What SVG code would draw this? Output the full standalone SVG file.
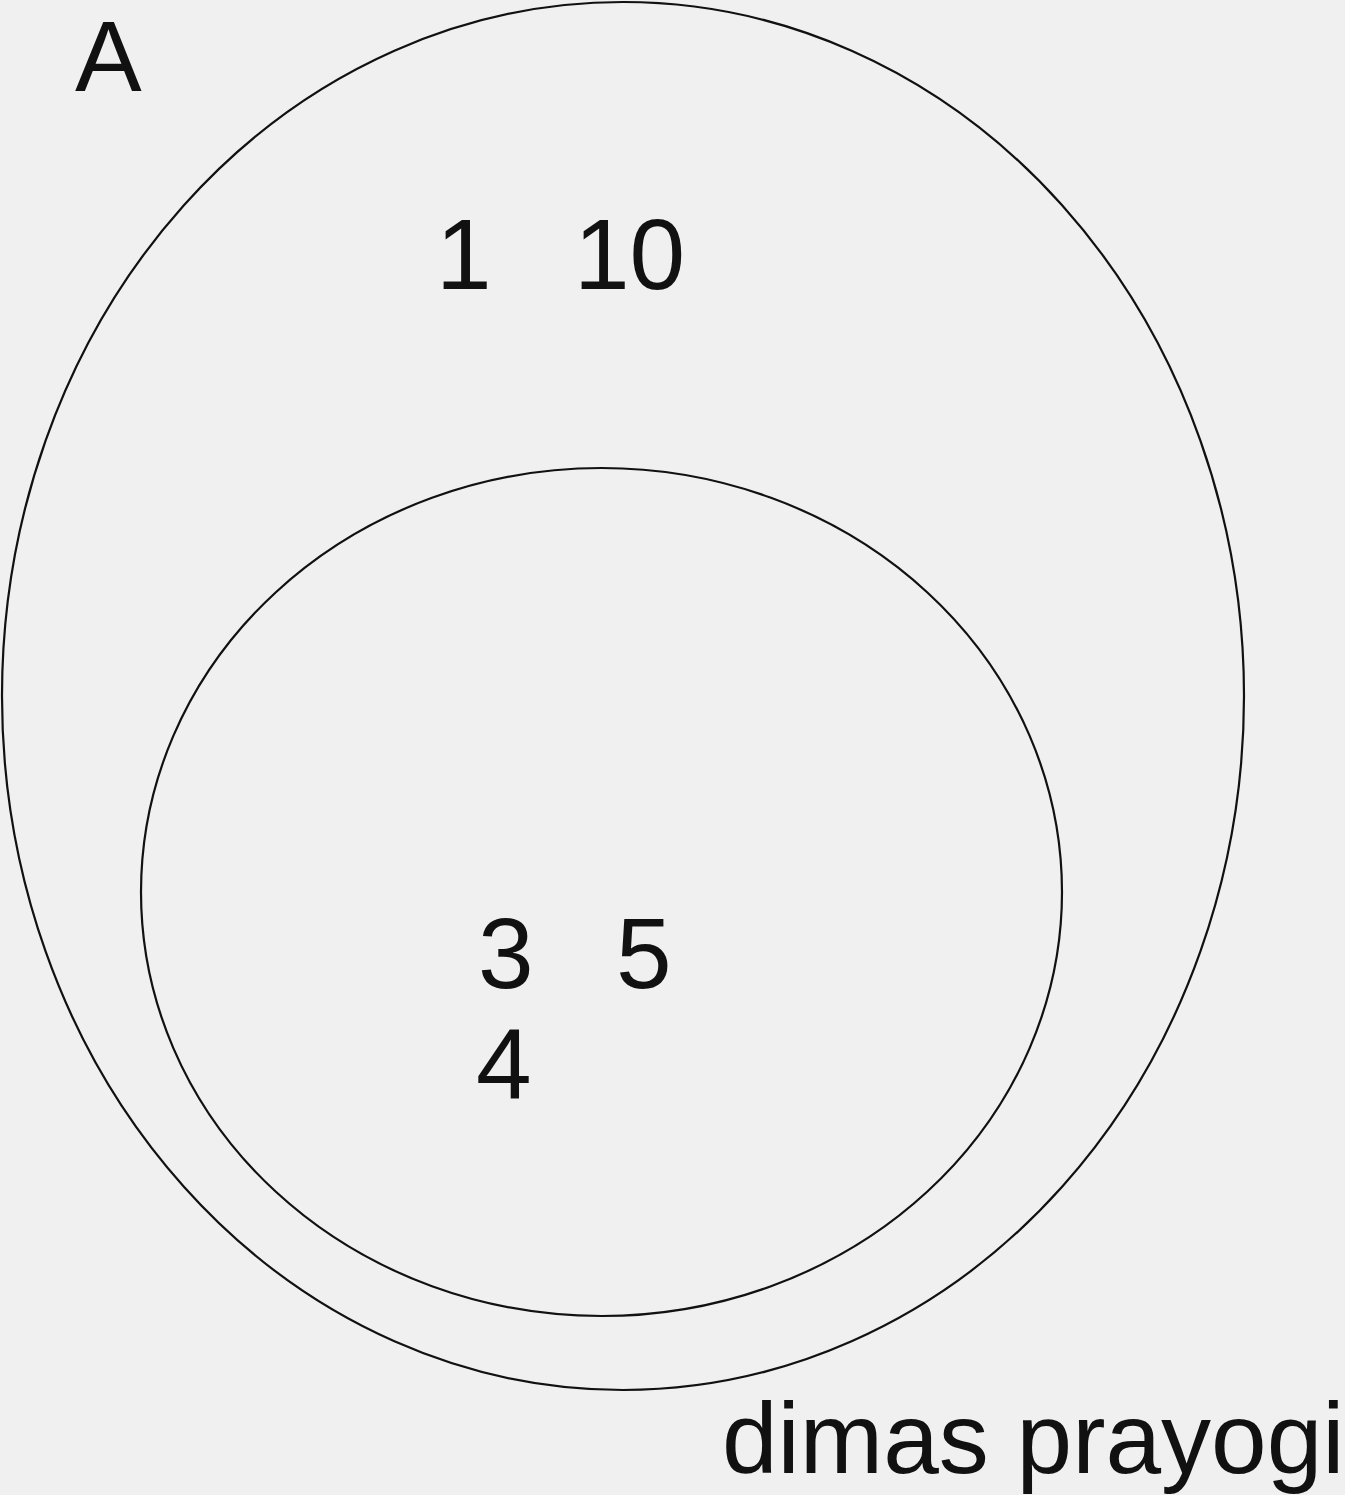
<svg xmlns="http://www.w3.org/2000/svg" width="1345" height="1495" viewBox="0 0 1345 1495">
<style>
.set{fill:none;stroke:#111;stroke-width:2.2}
.t{font-family:"Liberation Sans",Arial,sans-serif;fill:#111}
</style>
<rect x="0" y="0" width="1345" height="1495" fill="#f0f0f0"/>
<g id="setA">
<ellipse class="set" cx="623" cy="696" rx="621" ry="694"/>
<text class="t" x="75" y="91" font-size="100">A</text>
</g>
<g id="subset">
<ellipse class="set" cx="601.5" cy="892" rx="460.5" ry="424"/>
</g>
<g id="elements">
<text class="t" x="436" y="289" font-size="100">1</text>
<text class="t" x="574" y="289" font-size="100">10</text>
<text class="t" x="478" y="988" font-size="100">3</text>
<text class="t" x="616" y="988" font-size="100">5</text>
<text class="t" x="476" y="1099" font-size="100">4</text>
</g>
<g id="credit">
<text class="t" x="722" y="1473" font-size="100">dimas prayogi</text>
</g>
<g id="connectors"/>
</svg>
